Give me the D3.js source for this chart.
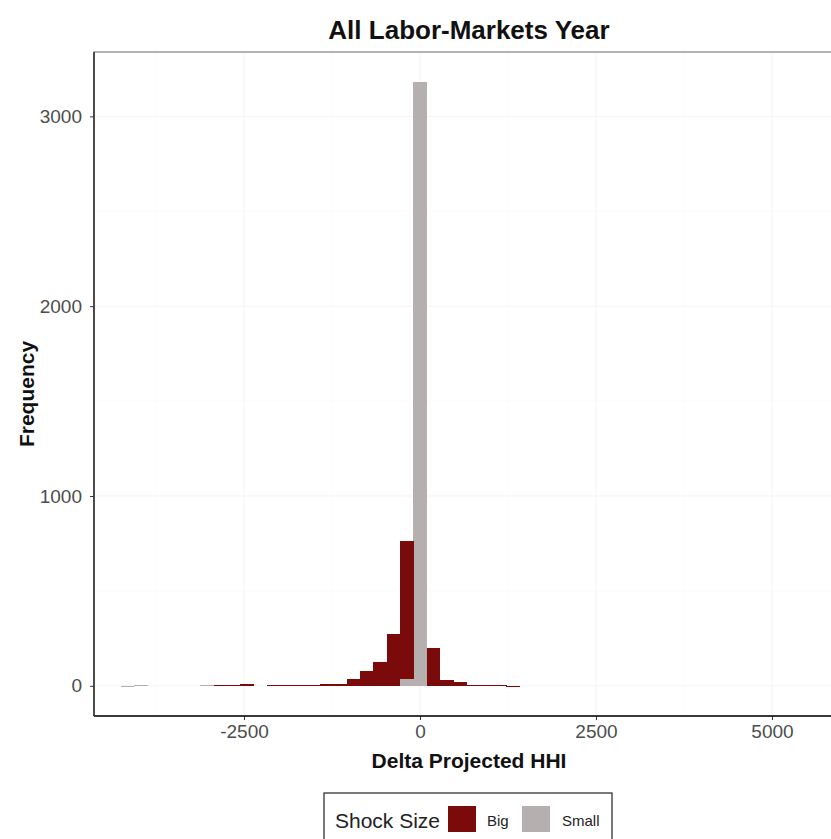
<!DOCTYPE html>
<html>
<head>
<meta charset="utf-8">
<script src="https://cdn.jsdelivr.net/npm/d3@7/dist/d3.min.js"></script>
<style>
  html, body { margin: 0; padding: 0; background: #ffffff; }
  svg { display: block; font-family: "Liberation Sans", Arial, sans-serif; }
</style>
</head>
<body>
<svg id="chart" width="831" height="839"></svg>
<script>
// ---- data ----
const binWidth = 189;
const binMids = [-4158, -3969, -3780, -3591, -3402, -3213, -3024, -2835, -2646, -2457,
                 -2268, -2079, -1890, -1701, -1512, -1323, -1134, -945, -756, -567,
                 -378, -189, 0, 189, 378, 567, 756, 945, 1134, 1323];
const bigCounts = [0, 0, 0, 0, 0, 0, 0, 2, 3, 7,
                   0, 2, 3, 3, 4, 7, 10, 35, 80, 123,
                   274, 728, 0, 200, 32, 22, 3, 2, 2, 1];
const smallCounts = [1, 2, 0, 0, 0, 0, 2, 0, 0, 0,
                     0, 0, 0, 0, 0, 0, 0, 0, 0, 0,
                     0, 35, 3180, 0, 0, 0, 0, 0, 0, 0];
const seriesNames = ["Big", "Small"];
const xTicks = [-2500, 0, 2500, 5000];
const xMinor = [-3750, -1250, 1250, 3750];
const yTicks = [0, 1000, 2000, 3000];
const yMinor = [500, 1500, 2500];
const titleText = "All Labor-Markets Year";
const xTitle = "Delta Projected HHI";
const yTitle = "Frequency";
const legendTitle = "Shock Size";

// ---- layout ----
const colors = { Big: "#7b0b0b", Small: "#b6afaf" };
const panel = { left: 94, top: 52, right: 844, bottom: 716 };

const svg = d3.select("#chart");

const x = d3.scaleLinear().domain([-4631, 6023]).range([panel.left, panel.right]);
const y = d3.scaleLinear().domain([-159, 3339]).range([panel.bottom, panel.top]);

const rows = binMids.map((m, i) => ({ mid: m, Big: bigCounts[i], Small: smallCounts[i] }));
// ggplot stacks first level on top: Small at bottom, Big on top
const stacked = d3.stack().keys(["Small", "Big"])(rows);

// background
svg.append("rect").attr("x", 0).attr("y", 0).attr("width", 831).attr("height", 839).attr("fill", "#fff");

// grid
const grid = svg.append("g");
xMinor.forEach(v => grid.append("line").attr("x1", x(v)).attr("x2", x(v)).attr("y1", panel.top).attr("y2", panel.bottom).attr("stroke", "#f9f9f9").attr("stroke-width", 0.6));
yMinor.forEach(v => grid.append("line").attr("x1", panel.left).attr("x2", panel.right).attr("y1", y(v)).attr("y2", y(v)).attr("stroke", "#f9f9f9").attr("stroke-width", 0.6));
xTicks.forEach(v => grid.append("line").attr("x1", x(v)).attr("x2", x(v)).attr("y1", panel.top).attr("y2", panel.bottom).attr("stroke", "#f4f4f4").attr("stroke-width", 1));
yTicks.forEach(v => grid.append("line").attr("x1", panel.left).attr("x2", panel.right).attr("y1", y(v)).attr("y2", y(v)).attr("stroke", "#f4f4f4").attr("stroke-width", 1));

// bars
const bars = svg.append("g").attr("shape-rendering", "crispEdges");
stacked.forEach(layer => {
  bars.selectAll(null)
    .data(layer.filter(d => d[1] - d[0] > 0))
    .enter().append("rect")
    .attr("x", d => x(d.data.mid - binWidth / 2))
    .attr("width", d => x(d.data.mid + binWidth / 2) - x(d.data.mid - binWidth / 2) + 0.3)
    .attr("y", d => y(d[1]))
    .attr("height", d => Math.max(1, y(d[0]) - y(d[1])))
    .attr("fill", colors[layer.key]);
});

// panel border
svg.append("rect")
  .attr("x", panel.left).attr("y", panel.top)
  .attr("width", panel.right - panel.left).attr("height", panel.bottom - panel.top)
  .attr("fill", "none").attr("stroke", "#6a6a6a").attr("stroke-width", 1);

// axes
const xAxis = svg.append("g").attr("transform", `translate(0,${panel.bottom})`)
  .call(d3.axisBottom(x).tickValues(xTicks).tickSize(4).tickPadding(5).tickFormat(d => String(d)));
const yAxis = svg.append("g").attr("transform", `translate(${panel.left},0)`)
  .call(d3.axisLeft(y).tickValues(yTicks).tickSize(4).tickPadding(8).tickFormat(d => String(d)));
[xAxis, yAxis].forEach(a => {
  a.select(".domain").remove();
  a.selectAll(".tick line").attr("stroke", "#333").attr("stroke-width", 1);
  a.selectAll(".tick text").attr("fill", "#4d4d4d").style("font-size", "19px")
    .style("font-family", "'Liberation Sans', Arial, sans-serif");
});
// axis lines
svg.append("line").attr("x1", panel.left).attr("x2", panel.right).attr("y1", panel.bottom).attr("y2", panel.bottom)
  .attr("stroke", "#111").attr("stroke-width", 1.6);
svg.append("line").attr("x1", panel.left).attr("x2", panel.left).attr("y1", panel.top).attr("y2", panel.bottom)
  .attr("stroke", "#333").attr("stroke-width", 1.6);

// titles
svg.append("text").attr("x", (panel.left + panel.right) / 2).attr("y", 39)
  .attr("text-anchor", "middle").style("font-size", "26px").style("font-weight", "bold").attr("fill", "#111")
  .text(titleText);
svg.append("text").attr("x", (panel.left + panel.right) / 2).attr("y", 768)
  .attr("text-anchor", "middle").style("font-size", "21px").style("font-weight", "bold").attr("fill", "#111")
  .text(xTitle);
svg.append("text").attr("transform", `translate(34,${(panel.top + panel.bottom) / 2 + 10}) rotate(-90)`)
  .attr("text-anchor", "middle").style("font-size", "21px").style("font-weight", "bold").attr("fill", "#111")
  .text(yTitle);

// legend
const lg = svg.append("g");
lg.append("rect").attr("x", 324).attr("y", 793).attr("width", 288).attr("height", 60)
  .attr("fill", "#fff").attr("stroke", "#222").attr("stroke-width", 1.2);
lg.append("text").attr("x", 335).attr("y", 828).style("font-size", "21px").attr("fill", "#222").text(legendTitle);
const keyX = [448, 522];
const labelX = [487, 562];
seriesNames.forEach((s, i) => {
  lg.append("rect").attr("x", keyX[i]).attr("y", 806).attr("width", 28).attr("height", 26).attr("fill", colors[s]);
  lg.append("text").attr("x", labelX[i]).attr("y", 826).style("font-size", "15px").attr("fill", "#222").text(s);
});
</script>
</body>
</html>
